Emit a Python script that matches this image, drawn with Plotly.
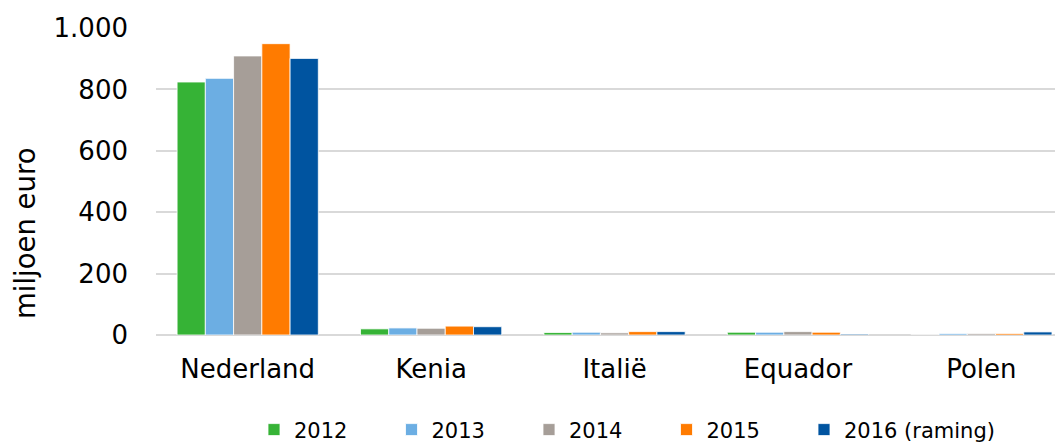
import plotly.graph_objects as go

categories = ["Nederland", "Kenia", "Italië", "Equador", "Polen"]
years = ["2012", "2013", "2014", "2015", "2016 (raming)"]
v2012 = [824, 20, 8, 9, 0]
v2013 = [836, 23, 9, 9, 5]
v2014 = [909, 22, 7, 11, 5]
v2015 = [949, 29, 11, 9, 5]
v2016 = [901, 27, 11, 3, 10]
colors = ["#36b336", "#6caee3", "#a69e98", "#ff7b00", "#0054a0"]
y_title = "miljoen euro"

series = [v2012, v2013, v2014, v2015, v2016]

W, H = 1055, 435
L, T, B = 148, 20, 108
font = "DejaVu Sans, Verdana, sans-serif"
legend_names = ["legend", "legend2", "legend3", "legend4", "legend5"]

fig = go.Figure()
for i, (name, vals, col) in enumerate(zip(years, series, colors)):
    fig.add_trace(go.Bar(
        x=categories, y=vals, name=name, legend=legend_names[i],
        marker=dict(color=col, line=dict(color="white", width=0.8)),
    ))

layout_legends = {}
for i, ln in enumerate(legend_names):
    left_px = 246 + i * 137.5
    layout_legends[ln] = dict(
        orientation="h", xref="container", yref="container",
        x=left_px / W, xanchor="left", y=0.03, yanchor="middle",
        font=dict(size=21, family=font), bgcolor="rgba(0,0,0,0)",
        itemwidth=30,
    )

plot_w = W - L
plot_h = H - T - B
fig.update_layout(
    width=W, height=H,
    margin=dict(l=L, r=0, t=T, b=B, autoexpand=False),
    paper_bgcolor="white", plot_bgcolor="white",
    barmode="group", bargap=0.23, bargroupgap=0,
    separators=",.",
    font=dict(family=font, color="#000000"),
    showlegend=True,
    **layout_legends,
)
fig.add_annotation(
    text=y_title, textangle=-90, showarrow=False,
    xref="paper", yref="paper",
    x=(17 - L) / plot_w, xanchor="center",
    y=(T + plot_h - 225) / plot_h, yanchor="middle",
    font=dict(size=27.5, family=font, color="#000000"),
    borderpad=0,
)
fig.update_xaxes(
    type="category", range=[-0.5, 4.445],
    tickfont=dict(size=26, family=font),
    showline=False, showgrid=False, ticks="", ticklabelstandoff=16,
)
fig.update_yaxes(
    range=[0, 1000], dtick=200, tickformat=",d",
    tickfont=dict(size=26, family=font),
    showgrid=True, gridcolor="#d9d9d9", gridwidth=2,
    zeroline=True, zerolinecolor="#d9d9d9", zerolinewidth=2,
    ticks="", ticklabelstandoff=27,
)

fig.write_html("out.html")
